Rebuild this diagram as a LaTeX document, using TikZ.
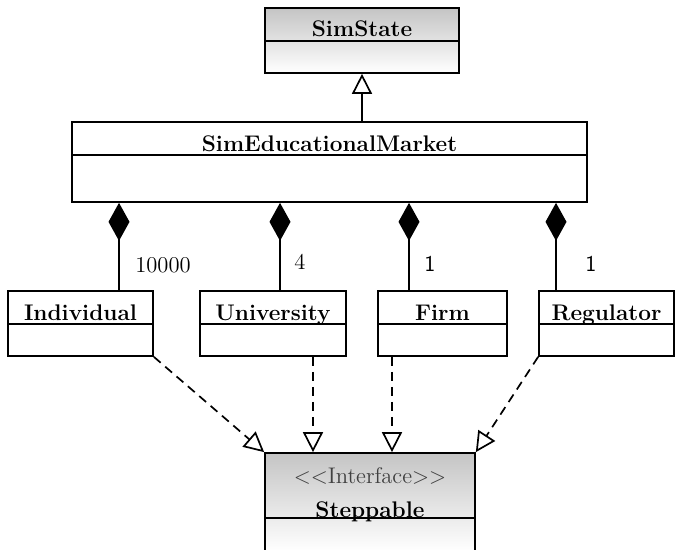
\documentclass[tikz,border=0pt]{standalone}
\usetikzlibrary{arrows.meta,fit}
\begin{document}
\begin{tikzpicture}[x=0.5pt,y=-0.5pt,
  every node/.style={font=\fontsize{11.3pt}{13.6pt}\selectfont},
  box/.style={draw, line width=0.85pt, inner sep=0pt, fill=white},
  shadedbox/.style={box, top color=black!23, bottom color=white},
  title/.style={font=\fontsize{11.3pt}{13.6pt}\selectfont\bfseries, inner sep=0pt, anchor=base},
  mult/.style={inner sep=0pt},
  comp/.style={line width=0.85pt, {Diamond[length=19pt,width=10.5pt]}-},
  gen/.style={line width=0.85pt, -{Triangle[open,length=10pt,width=10pt]}},
  real/.style={line width=0.85pt, dash pattern=on 4.5pt off 3pt,
               -{Triangle[open,length=10pt,width=10pt]}},
]
\useasboundingbox (0,0) rectangle (675,550);

% classes
\node[shadedbox, fit={(265,8)(459,73)}] (ss) {};
\node[box, fit={(72,122)(587,202)}] (sem) {};
\node[box, fit={(8,291)(153,356)}] (ind) {};
\node[box, fit={(200,291)(346,356)}] (uni) {};
\node[box, fit={(378,291)(507,356)}] (firm) {};
\node[box, fit={(539,291)(674,356)}] (reg) {};
\node[shadedbox, fit={(265,453)(475,551)}] (step) {};

% compartment dividers
\foreach \n/\d in {ss/17pt, sem/17pt, ind/17pt, uni/17pt, firm/17pt, reg/17pt, step/33pt}
  \draw[line width=0.85pt] ([yshift=-\d]\n.north west) -- ([yshift=-\d]\n.north east);

% class names (placed by baseline)
\node[title] (ssT) at (362,37) {SimState};
\node[title] (semT) at (329.5,152) {SimEducationalMarket};
\node[title] (indT) at (80.5,321) {Individual};
\node[title] (uniT) at (273,321) {University};
\node[title] (firmT) at (442.5,321) {Firm};
\node[title] (regT) at (606.5,321) {Regulator};
\node[inner sep=0pt, anchor=base, text=black!75] (stereo) at (370,484) {$<<$Interface$>>$};
\node[title] (stepT) at (370,517) {Steppable};

% inheritance
\draw[gen] (ss.south |- sem.north) -- (ss.south);

% compositions
\coordinate (xI) at (119,0);
\coordinate (xU) at (280,0);
\coordinate (xF) at (409,0);
\coordinate (xR) at (556,0);
\foreach \c/\n in {xI/ind, xU/uni, xF/firm, xR/reg}
  \draw[comp] (\c |- sem.south) -- (\c |- \n.north);

% multiplicities
\node[mult] (mI) at (163,265) {10000};
\node[mult] (mU) at (300,262) {4};
\node[mult] (mF) at (430,264) {\sffamily 1};
\node[mult] (mR) at (591,264) {\sffamily 1};

% realizations
\coordinate (xUs) at (313,0);
\coordinate (xFs) at (392,0);
\draw[real] (ind.south east) -- (step.north west);
\draw[real] (xUs |- uni.south) -- (xUs |- step.north);
\draw[real] (xFs |- firm.south) -- (xFs |- step.north);
\draw[real] (reg.south west) -- (step.north east);
\end{tikzpicture}
\end{document}
